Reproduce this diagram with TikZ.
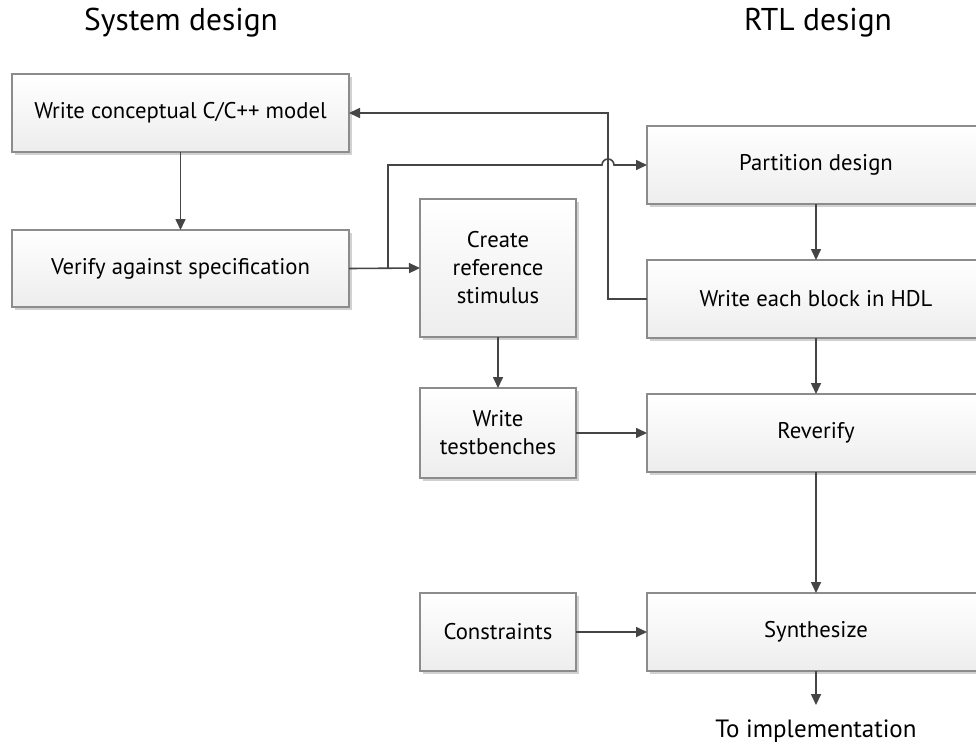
\documentclass[tikz,border=0pt]{standalone}
\usepackage{fontspec}
\setmainfont{PT Sans}
\usetikzlibrary{arrows.meta,shadows,calc}
\definecolor{linecol}{HTML}{454545}
\definecolor{boxborder}{HTML}{8C8C8C}
\tikzset{
  box/.style={draw=boxborder, line width=1.3pt, top color=white, bottom color=black!7,
    drop shadow={shadow xshift=3pt, shadow yshift=-3pt, fill=black!18, opacity=1},
    inner sep=0pt, outer sep=0pt, align=center,
    font=\fontsize{22.7}{28}\selectfont},
  conn/.style={draw=linecol, line width=1.6pt, -{Triangle[length=11pt,width=10pt]}},
  title/.style={font=\fontsize{31.5}{36}\selectfont, inner sep=0pt}
}
\begin{document}
\begin{tikzpicture}[x=1pt,y=-1pt]
\useasboundingbox (0,0) rectangle (976,747);
\clip (0,0) rectangle (976,747);
\fill[white] (0,0) rectangle (976,747);

\node[title] (t1) at (181,23) {System design};
\node[title] (t2) at (818,23) {RTL design};

\node[box, minimum width=337pt, minimum height=78pt] (concept) at (180.5,113) {Write conceptual C/C++ model};
\node[box, minimum width=337pt, minimum height=77pt] (verify) at (180.5,268.5) {Verify against specification};
\node[box, minimum width=156pt, minimum height=138pt] (create) at (498,268) {Create\\reference\\stimulus};
\node[box, minimum width=156pt, minimum height=90pt] (tb) at (498,433) {Write\\testbenches};
\node[box, minimum width=156pt, minimum height=78pt] (cons) at (498,632) {Constraints};

\node[box, minimum width=338pt, minimum height=78pt] (part) at (816,165) {Partition design};
\node[box, minimum width=338pt, minimum height=78pt] (block) at (816,299) {Write each block in HDL};
\node[box, minimum width=338pt, minimum height=78pt] (rever) at (816,433) {Reverify};
\node[box, minimum width=338pt, minimum height=78pt] (synth) at (816,632) {Synthesize};

\node[font=\fontsize{25}{30}\selectfont, inner sep=0pt] (impl) at (816,731) {To implementation};

\coordinate (J) at (388,268);
\coordinate (FB) at (608,299);

\draw[conn] (concept) -- (verify);
\draw[conn] (verify.east) -- (create.west);
\draw[conn] (J) |- ($(FB |- part.west)+(-6pt,0)$) arc[start angle=180, end angle=0, radius=6pt] -- (part.west);
\draw[conn] (block.west) -| (FB |- concept.east) -- (concept.east);
\draw[conn] (part) -- (block);
\draw[conn] (create) -- (tb);
\draw[conn] (tb) -- (rever);
\draw[conn] (block) -- (rever);
\draw[conn] (rever) -- (synth);
\draw[conn] (cons) -- (synth);
\draw[conn] (synth.south) -- ($(synth.south)+(0,34)$) coordinate (impltop);
\end{tikzpicture}
\end{document}
